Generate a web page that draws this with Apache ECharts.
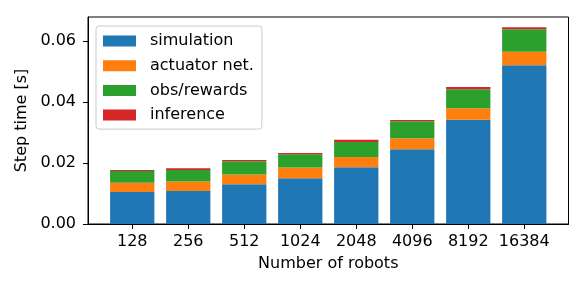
<!DOCTYPE html>
<html>
<head>
<meta charset="utf-8">
<script src="https://cdn.jsdelivr.net/npm/echarts@6/dist/echarts.min.js"></script>
<style>
html,body{margin:0;padding:0;background:#fff;}
#chart{width:586px;height:293px;}
</style>
</head>
<body>
<div id="chart"></div>
<script>
const categories = ['128', '256', '512', '1024', '2048', '4096', '8192', '16384'];
const simulation = [0.0105, 0.0108, 0.0130, 0.0150, 0.0186, 0.0245, 0.0342, 0.0521];
const actuatorNet = [0.0030, 0.0031, 0.0032, 0.0035, 0.0034, 0.0036, 0.0038, 0.0044];
const obsRewards = [0.0039, 0.0038, 0.0044, 0.0044, 0.0049, 0.0056, 0.0062, 0.0074];
const inference = [0.0003, 0.0006, 0.0004, 0.0004, 0.0007, 0.0004, 0.0007, 0.0006];
const yTicks = [0, 0.02, 0.04, 0.06];

const FONT = 'DejaVu Sans';
const idx = categories.map((c, i) => i);
const YMAX = 0.0679;

const seriesDefs = [
  ['simulation', simulation, '#1f77b4'],
  ['actuator net.', actuatorNet, '#ff7f0e'],
  ['obs/rewards', obsRewards, '#2ca02c'],
  ['inference', inference, '#d62728']
];

// frame grid spans x from -0.79 to 7.79 (matplotlib margins); bar grid spans bands -0.5..7.5
const G = {left: 88, right: 17.5, top: 17, bottom: 69};
const plotW = 586 - G.left - G.right;
const unit = plotW / 8.58;
const barGrid = {left: G.left + 0.29 * unit, right: G.right + 0.29 * unit, top: G.top, bottom: G.bottom};

const chart = echarts.init(document.getElementById('chart'), null, {renderer: 'canvas'});
chart.setOption({
  animation: false,
  textStyle: {fontFamily: FONT},
  grid: [
    Object.assign({show: true, borderColor: '#000', borderWidth: 1, backgroundColor: 'transparent'}, G),
    barGrid
  ],
  legend: {
    orient: 'vertical', left: 96, top: 26,
    padding: [7, 8, 6, 7],
    backgroundColor: 'rgba(255,255,255,0.85)',
    borderColor: '#cccccc', borderWidth: 1, borderRadius: 3,
    icon: 'rect', itemWidth: 33, itemHeight: 11, itemGap: 8.7,
    textStyle: {fontFamily: FONT, fontSize: 16, color: '#000', lineHeight: 16, padding: [0, 0, 0, 9]},
    data: seriesDefs.map(s => s[0])
  },
  xAxis: [{
    gridIndex: 0, type: 'value', min: -0.79, max: 7.79,
    name: 'Number of robots', nameLocation: 'middle', nameGap: 32,
    nameTextStyle: {fontFamily: FONT, fontSize: 16, color: '#000'},
    axisLine: {show: true, onZero: false, lineStyle: {color: '#000', width: 1}},
    axisTick: {show: true, length: 5, lineStyle: {color: '#000', width: 1}, customValues: idx},
    axisLabel: {fontFamily: FONT, fontSize: 16, color: '#000', margin: 10, customValues: idx,
      formatter: v => categories[Math.round(v)]},
    splitLine: {show: false}
  }, {
    gridIndex: 1, type: 'category', data: categories,
    axisLine: {show: false}, axisTick: {show: false}, axisLabel: {show: false}, splitLine: {show: false}
  }],
  yAxis: [{
    gridIndex: 0, type: 'value', min: 0, max: YMAX,
    name: 'Step time [s]', nameLocation: 'middle', nameGap: 52, nameRotate: 90,
    nameTextStyle: {fontFamily: FONT, fontSize: 16, color: '#000'},
    axisLine: {show: true, onZero: false, lineStyle: {color: '#000', width: 1}},
    axisTick: {show: true, length: 5, lineStyle: {color: '#000', width: 1}, customValues: yTicks},
    axisLabel: {fontFamily: FONT, fontSize: 16, color: '#000', margin: 12, customValues: yTicks,
      formatter: v => v.toFixed(2)},
    splitLine: {show: false}
  }, {
    gridIndex: 1, type: 'value', min: 0, max: YMAX,
    axisLine: {show: false}, axisTick: {show: false}, axisLabel: {show: false}, splitLine: {show: false}
  }],
  series: seriesDefs.map(s => ({
    name: s[0], type: 'bar', stack: 'total', barWidth: 44.3,
    xAxisIndex: 1, yAxisIndex: 1,
    itemStyle: {color: s[2]},
    data: s[1]
  }))
});
</script>
</body>
</html>
